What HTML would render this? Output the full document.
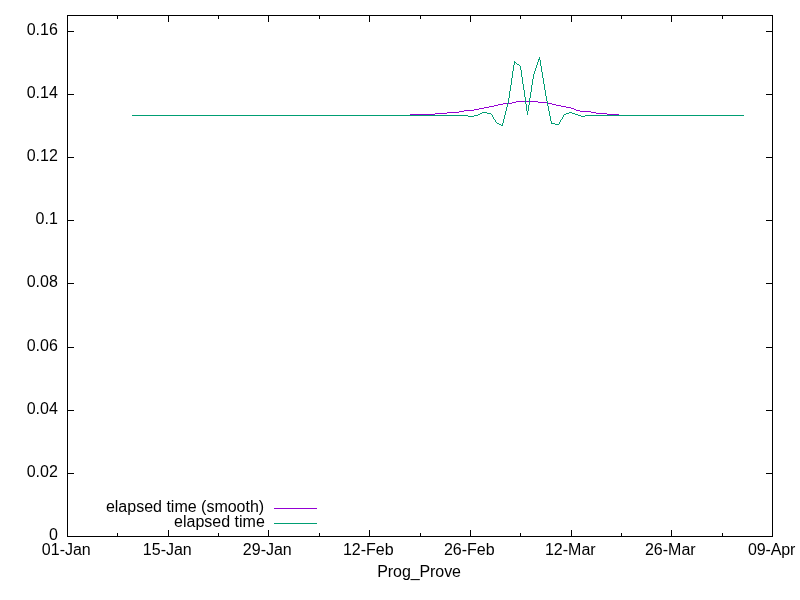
<!DOCTYPE html>
<html><head><meta charset="utf-8"><title>Prog_Prove</title>
<style>
html,body{margin:0;padding:0;background:#fff;}
svg{display:block;}
text{font-family:"Liberation Sans",sans-serif;font-size:16px;fill:#000;}
</style></head><body>
<svg width="800" height="600" viewBox="0 0 800 600">
<rect width="800" height="600" fill="#fff"/>
<g shape-rendering="crispEdges" stroke="#000" stroke-width="1" fill="none">
<rect x="67.5" y="15.5" width="705" height="521"/>
<path d="M67.5,536.5h6.5M772.5,536.5h-6.5"/>
<path d="M67.5,473.5h6.5M772.5,473.5h-6.5"/>
<path d="M67.5,410.5h6.5M772.5,410.5h-6.5"/>
<path d="M67.5,347.5h6.5M772.5,347.5h-6.5"/>
<path d="M67.5,283.5h6.5M772.5,283.5h-6.5"/>
<path d="M67.5,220.5h6.5M772.5,220.5h-6.5"/>
<path d="M67.5,157.5h6.5M772.5,157.5h-6.5"/>
<path d="M67.5,94.5h6.5M772.5,94.5h-6.5"/>
<path d="M67.5,31.5h6.5M772.5,31.5h-6.5"/>
<path d="M67.5,536.5v-6.5M67.5,15.5v6.5"/>
<path d="M168.5,536.5v-6.5M168.5,15.5v6.5"/>
<path d="M268.5,536.5v-6.5M268.5,15.5v6.5"/>
<path d="M369.5,536.5v-6.5M369.5,15.5v6.5"/>
<path d="M470.5,536.5v-6.5M470.5,15.5v6.5"/>
<path d="M571.5,536.5v-6.5M571.5,15.5v6.5"/>
<path d="M671.5,536.5v-6.5M671.5,15.5v6.5"/>
<path d="M772.5,536.5v-6.5M772.5,15.5v6.5"/>
<path d="M117.5,536.5v-3.5M117.5,15.5v3.5"/>
<path d="M218.5,536.5v-3.5M218.5,15.5v3.5"/>
<path d="M319.5,536.5v-3.5M319.5,15.5v3.5"/>
<path d="M420.5,536.5v-3.5M420.5,15.5v3.5"/>
<path d="M520.5,536.5v-3.5M520.5,15.5v3.5"/>
<path d="M621.5,536.5v-3.5M621.5,15.5v3.5"/>
<path d="M722.5,536.5v-3.5M722.5,15.5v3.5"/>
</g>
<g text-anchor="end">
<text x="57.8" y="540">0</text>
<text x="57.8" y="477">0.02</text>
<text x="57.8" y="414">0.04</text>
<text x="57.8" y="351">0.06</text>
<text x="57.8" y="287">0.08</text>
<text x="57.8" y="224">0.1</text>
<text x="57.8" y="161">0.12</text>
<text x="57.8" y="98">0.14</text>
<text x="57.8" y="35">0.16</text>
</g>
<g text-anchor="middle">
<text x="66.3" y="555">01-Jan</text>
<text x="167.3" y="555">15-Jan</text>
<text x="267.3" y="555">29-Jan</text>
<text x="368.3" y="555">12-Feb</text>
<text x="469.3" y="555">26-Feb</text>
<text x="570.3" y="555">12-Mar</text>
<text x="670.3" y="555">26-Mar</text>
<text x="771.7" y="555" textLength="47.4" lengthAdjust="spacing">09-Apr</text>
<text x="419.1" y="577" textLength="83.7" lengthAdjust="spacing">Prog_Prove</text>
</g>
<g text-anchor="end">
<text x="264.2" y="511.5">elapsed time (smooth)</text>
<text x="264.8" y="526.5">elapsed time</text>
</g>
<g shape-rendering="crispEdges" fill="none" stroke-width="1">
<path stroke="#9400d3" d="M274,508.5H317"/>
<path stroke="#009e73" d="M274,523.5H317"/>
<path stroke="#9400d3" d="M410,114.5H435M435,113.5H447M447,112.5H459M459,111.5H464M464,110.5H474M474,109.5H479M479,108.5H484M484,107.5H489M489,106.5H494M494,105.5H498M498,104.5H503M503,103.5H512M512,102.5H516M516,101.5H538M538,102.5H547M547,103.5H552M552,104.5H556M556,105.5H561M561,106.5H566M566,107.5H571M571,108.5H574M574,109.5H576M576,110.5H580M580,111.5H591M591,112.5H596M596,113.5H607M607,114.5H619"/>
<path stroke="#009e73" d="M132,115.5H468M468,116.5H474M474,115.5H478M478,114.5H480M480,113.5H482M482,112.5H487M487,113.5H491M491,114.5H492M492.5,115V117M493.5,117V119M494,119.5H495M495.5,120V122M496,122.5H497M497,123.5H499M499,124.5H501M501,125.5H502M502.5,123V126M503.5,119V123M504.5,115V119M505.5,111V115M506.5,107V111M507.5,103V107M508.5,98V103M509.5,91V98M510.5,85V91M511.5,78V85M512.5,71V78M513.5,65V71M514.5,61V65M515,62.5H516M516,63.5H517M517,64.5H519M519,65.5H520M520.5,66V70M521.5,70V77M522.5,77V84M523.5,84V90M524.5,90V97M525.5,97V104M526.5,104V111M527.5,111V115M528.5,105V111M529.5,98V105M530.5,92V98M531.5,85V92M532.5,79V85M533.5,74V79M534.5,71V74M535.5,68V71M536.5,65V68M537.5,62V65M538.5,59V62M539.5,57V60M540.5,60V66M541.5,66V72M542.5,72V78M543.5,78V84M544.5,84V90M545.5,90V96M546.5,96V101M547.5,101V106M548.5,106V111M549.5,111V116M550.5,116V121M551.5,121V124M552,123.5H555M555,124.5H559M559.5,122V124M560.5,120V122M561,119.5H562M562.5,117V119M563.5,115V117M564,114.5H566M566,113.5H569M569,112.5H572M572,113.5H575M575,114.5H578M578,115.5H581M581,116.5H585M585,115.5H744"/>
</g>
</svg>
</body></html>
